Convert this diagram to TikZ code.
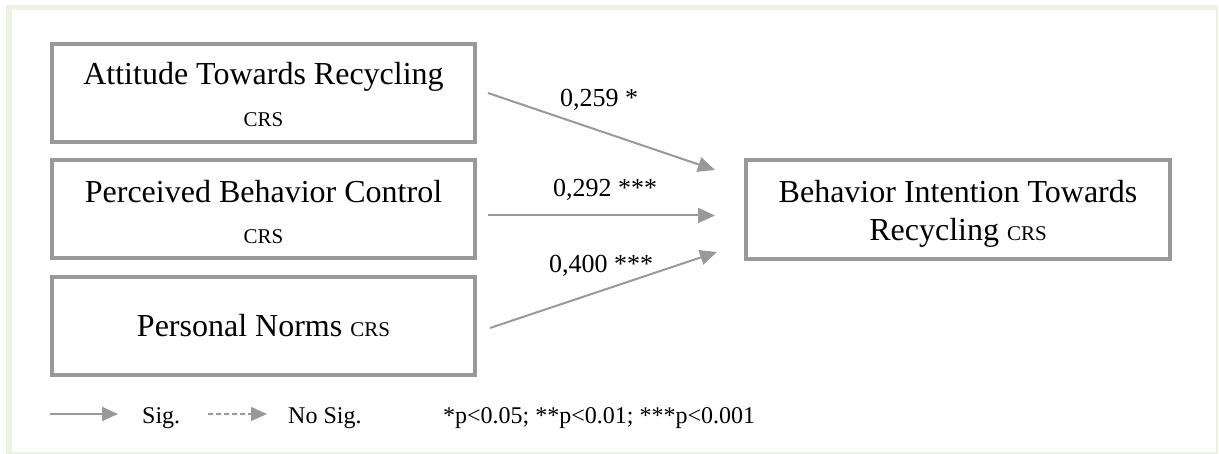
\documentclass[tikz,border=0pt]{standalone}
\usepackage{fontspec}
\setmainfont{Liberation Serif}
\usetikzlibrary{arrows.meta,calc}
\definecolor{framecol}{RGB}{238,242,226}
\definecolor{linegray}{RGB}{153,153,153}
\tikzset{
  box/.style={draw=linegray, line width=4pt, fill=white, inner sep=0pt,
    align=center, font=\fontsize{32}{40}\selectfont},
  arr/.style={draw=linegray, line width=2pt, -{Triangle[length=17pt,width=15pt]}},
  legarr/.style={draw=linegray, line width=2pt, -{Triangle[length=16pt,width=14pt]}},
  coef/.style={font=\fontsize{26}{30}\selectfont, anchor=base, inner sep=0pt},
  legtext/.style={font=\fontsize{24}{28}\selectfont, anchor=base west, inner sep=0pt},
}
\newcommand{\crstag}{{\fontsize{21}{21}\selectfont CRS}}
\begin{document}
\begin{tikzpicture}[x=1pt,y=-1pt]
  \useasboundingbox (0,0) rectangle (1219,454);
  % outer panel
  \fill[framecol] (6,5) rectangle (1218,454);
  \fill[white] (12,10) rectangle (1216,452);

  % construct boxes
  \node[box, minimum width=423pt, minimum height=98pt] (atr) at (263.5,93)
    {\rule{0pt}{25pt}Attitude Towards Recycling\\[2pt]\crstag};
  \node[box, minimum width=423pt, minimum height=98pt] (pbc) at (263.5,209)
    {\rule{0pt}{28pt}Perceived Behavior Control\\[1pt]\crstag};
  \node[box, minimum width=423pt, minimum height=98pt] (pn) at (263.5,326)
    {Personal Norms \crstag};
  \node[box, minimum width=424pt, minimum height=99pt] (bit) at (958,209.5)
    {\rule{0pt}{30pt}Behavior Intention Towards\\[-2pt]Recycling \crstag};

  % paths
  \draw[arr] ($(atr.east)+(11,0)$) -- ($(bit.west)+(-29,-39.5)$);
  \draw[arr] ($(pbc.east)+(11,6.5)$) -- ($(bit.west)+(-29,6)$);
  \draw[arr] ($(pn.east)+(13,2)$) -- ($(bit.west)+(-27,42.5)$);

  % path coefficients
  \node[coef] (c1) at (599,107) {0,259 *};
  \node[coef] (c2) at (605,197) {0,292 ***};
  \node[coef] (c3) at (601,273) {0,400 ***};

  % legend
  \coordinate (s0) at (50,414);
  \coordinate (s1) at (118,414);
  \coordinate (d0) at (208,414);
  \coordinate (d1) at (267,414);
  \draw[legarr] (s0) -- (s1);
  \draw[legarr, line width=1.4pt, dash pattern=on 5pt off 3pt] (d0) -- (d1);
  \node[legtext] (sig) at (142,424) {Sig.};
  \node[legtext] (nosig) at (288,424) {No Sig.};
  \node[legtext] (pval) at (443,424) {*p<0.05; **p<0.01; ***p<0.001};
\end{tikzpicture}
\end{document}
